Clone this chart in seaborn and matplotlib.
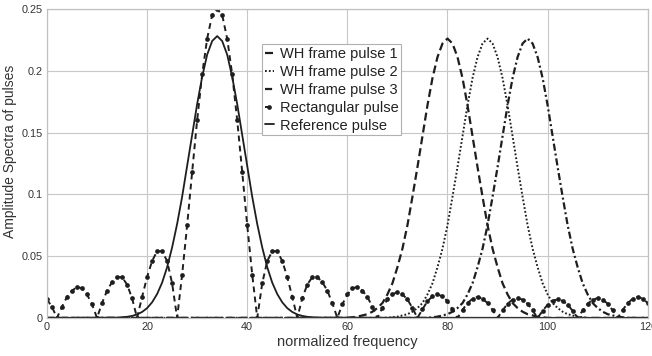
import numpy as np
import pandas as pd
import matplotlib
matplotlib.use("Agg")
import matplotlib.pyplot as plt
import seaborn as sns

# frequency grid used by the rectangular pulse (one marker per unit)
freq = list(range(0, 121))

rect_amp = [
    0.015, 0.009, 0.0, 0.009, 0.017, 0.022, 0.025, 0.024, 0.019, 0.011,
    0.0, 0.012, 0.022, 0.029, 0.033, 0.033, 0.027, 0.016, 0.0, 0.017,
    0.033, 0.046, 0.054, 0.054, 0.046, 0.028, 0.0, 0.035, 0.075, 0.118,
    0.160, 0.197, 0.226, 0.245, 0.250, 0.245, 0.226, 0.197, 0.160, 0.118,
    0.075, 0.035, 0.0, 0.028, 0.046, 0.054, 0.054, 0.046, 0.033, 0.017,
    0.0, 0.016, 0.027, 0.033, 0.033, 0.029, 0.022, 0.012, 0.0, 0.011,
    0.019, 0.024, 0.025, 0.022, 0.017, 0.009, 0.0, 0.008, 0.015, 0.019,
    0.021, 0.019, 0.015, 0.008, 0.0, 0.007, 0.0135, 0.0175, 0.019, 0.0175,
    0.0135, 0.007, 0.0, 0.0065, 0.012, 0.0155, 0.017, 0.0155, 0.012, 0.0065,
    0.0, 0.006, 0.0115, 0.0148, 0.016, 0.0148, 0.0115, 0.006, 0.0, 0.0057,
    0.0107, 0.0138, 0.015, 0.0138, 0.0107, 0.0057, 0.0, 0.006, 0.0115, 0.0148,
    0.016, 0.0148, 0.0115, 0.006, 0.0, 0.0065, 0.012, 0.0155, 0.017, 0.0155,
    0.012,
]

# gaussian-like pulses: frequencies and amplitudes
ref_freq = [0, 14, 15, 16, 17, 18, 19, 20, 21, 22, 23, 24, 25, 26, 27, 28, 29, 30, 31, 32, 33,
            34, 35, 36, 37, 38, 39, 40, 41, 42, 43, 44, 45, 46, 47, 48, 49, 50, 51, 52, 53, 54, 120]
ref_amp = [0.0, 0.0002, 0.0005, 0.0009, 0.0016, 0.0028, 0.0048, 0.0079, 0.0126, 0.0193, 0.0285,
           0.041, 0.057, 0.076, 0.098, 0.123, 0.148, 0.173, 0.195, 0.213, 0.224,
           0.228, 0.224, 0.213, 0.195, 0.173, 0.148, 0.123, 0.098, 0.076, 0.057,
           0.041, 0.0285, 0.0193, 0.0126, 0.0079, 0.0048, 0.0028, 0.0016, 0.0009, 0.0005, 0.0002, 0.0]

wh1_freq = [0, 60, 61, 62, 63, 64, 65, 66, 67, 68, 69, 70, 71, 72, 73, 74, 75, 76, 77, 78, 79,
            80, 81, 82, 83, 84, 85, 86, 87, 88, 89, 90, 91, 92, 93, 94, 95, 96, 97, 98, 99, 100, 120]
wh1_amp = [0.0, 0.0, 0.0005, 0.001, 0.002, 0.003, 0.005, 0.008, 0.012, 0.019, 0.028,
           0.041, 0.056, 0.075, 0.098, 0.122, 0.147, 0.172, 0.194, 0.211, 0.222,
           0.226, 0.222, 0.211, 0.194, 0.172, 0.147, 0.122, 0.098, 0.075, 0.056,
           0.041, 0.028, 0.019, 0.012, 0.008, 0.005, 0.003, 0.002, 0.001, 0.0005, 0.0, 0.0]

wh2_freq = [0, 68, 69, 70, 71, 72, 73, 74, 75, 76, 77, 78, 79, 80, 81, 82, 83, 84, 85, 86, 87,
            88, 89, 90, 91, 92, 93, 94, 95, 96, 97, 98, 99, 100, 101, 102, 103, 104, 105, 106, 107, 108, 120]
wh2_amp = [0.0, 0.0, 0.0005, 0.001, 0.002, 0.003, 0.005, 0.008, 0.012, 0.019, 0.028,
           0.041, 0.056, 0.075, 0.098, 0.122, 0.147, 0.172, 0.194, 0.211, 0.222,
           0.226, 0.222, 0.211, 0.194, 0.172, 0.147, 0.122, 0.098, 0.075, 0.056,
           0.041, 0.028, 0.019, 0.012, 0.008, 0.005, 0.003, 0.002, 0.001, 0.0005, 0.0, 0.0]

wh3_freq = [0, 76, 77, 78, 79, 80, 81, 82, 83, 84, 85, 86, 87, 88, 89, 90, 91, 92, 93, 94, 95,
            96, 97, 98, 99, 100, 101, 102, 103, 104, 105, 106, 107, 108, 109, 110, 111, 112, 113, 114, 115, 116, 120]
wh3_amp = [0.0, 0.0, 0.0005, 0.001, 0.002, 0.003, 0.005, 0.008, 0.012, 0.019, 0.028,
           0.041, 0.056, 0.075, 0.098, 0.122, 0.147, 0.172, 0.194, 0.211, 0.222,
           0.226, 0.222, 0.211, 0.194, 0.172, 0.147, 0.122, 0.098, 0.075, 0.056,
           0.041, 0.028, 0.019, 0.012, 0.008, 0.005, 0.003, 0.002, 0.001, 0.0005, 0.0, 0.0]

labels = ["WH frame pulse 1", "WH frame pulse 2", "WH frame pulse 3",
          "Rectangular pulse", "Reference pulse"]

x_ticks = [0, 20, 40, 60, 80, 100, 120]
y_ticks = [0, 0.05, 0.1, 0.15, 0.2, 0.25]
y_tick_labels = ["0", "0.05", "0.1", "0.15", "0.2", "0.25"]

sns.set_style("whitegrid")
plt.rcParams['font.family'] = ['Liberation Sans', 'DejaVu Sans']

fig, ax = plt.subplots(figsize=(6.52, 3.56), dpi=100)
fig.subplots_adjust(left=0.072, right=0.9935, top=0.975, bottom=0.107)

ink = "#1e1e1e"
sns.lineplot(x=wh1_freq, y=wh1_amp, ax=ax, color=ink, lw=1.6,
             linestyle=(0, (3.6, 1.8)), label=labels[0])
sns.lineplot(x=wh2_freq, y=wh2_amp, ax=ax, color=ink, lw=1.4,
             linestyle=(0, (0.9, 1.1)), label=labels[1])
sns.lineplot(x=wh3_freq, y=wh3_amp, ax=ax, color=ink, lw=1.6,
             linestyle=(0, (3.2, 1.3, 0.9, 1.3)), label=labels[2])
sns.lineplot(x=freq, y=rect_amp, ax=ax, color=ink, lw=1.4,
             linestyle=(0, (3.0, 2.2)), marker='o', markersize=3.4,
             markeredgewidth=0, label=labels[3])
sns.lineplot(x=ref_freq, y=ref_amp, ax=ax, color=ink, lw=1.3,
             linestyle='-', label=labels[4])

ax.set_xlim(0, 120)
ax.set_ylim(0, 0.25)
ax.set_xticks(x_ticks)
ax.set_yticks(y_ticks)
ax.set_yticklabels(y_tick_labels)
ax.tick_params(axis='both', labelsize=7.8, colors="#333333", length=0, pad=3)
ax.grid(True, color="#c8c8c8", lw=0.8)
for sp in ax.spines.values():
    sp.set_color("#c0c0c0")
    sp.set_linewidth(0.9)

ax.set_xlabel("normalized frequency", fontsize=10.5, color="#333333", labelpad=2)
ax.set_ylabel("Amplitude Spectra of pulses", fontsize=10, color="#333333")
ax.yaxis.set_label_coords(-0.05, 0.54)

leg = ax.legend(loc='upper left', bbox_to_anchor=(0.358, 0.885), borderaxespad=0,
                fontsize=10.5, handlelength=0.6, handletextpad=0.4, borderpad=0.2,
                labelspacing=0.26, frameon=True, fancybox=False, framealpha=1)
leg.get_frame().set_edgecolor("#b0b0b0")
leg.get_frame().set_linewidth(0.8)
for t in leg.get_texts():
    t.set_color("#222222")

fig.savefig("out.png", dpi=100)
